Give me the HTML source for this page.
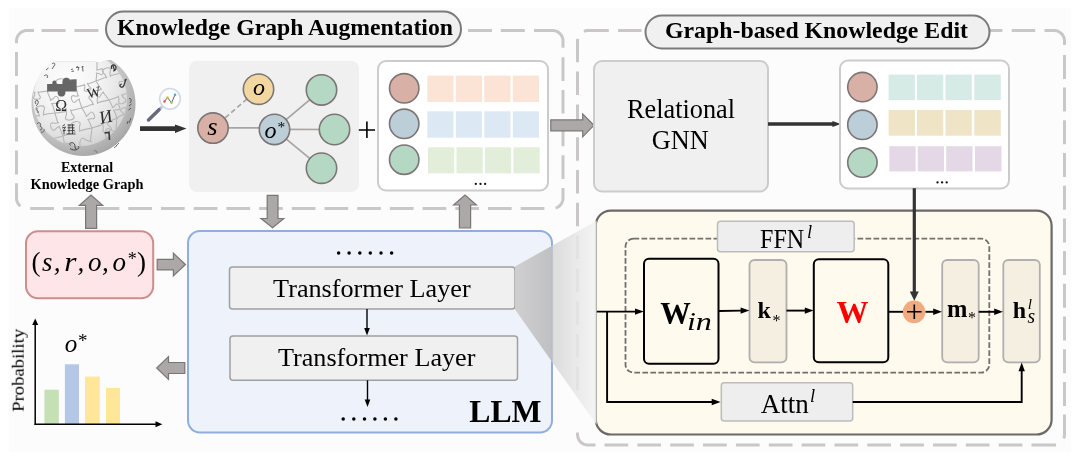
<!DOCTYPE html>
<html><head><meta charset="utf-8">
<style>
html,body{margin:0;padding:0;background:#fff;width:1080px;height:457px;overflow:hidden}
svg{display:block;will-change:transform}
text{font-family:"Liberation Serif",serif}
.b{font-weight:bold}
.i{font-style:italic}
</style></head><body>
<svg width="1080" height="457" viewBox="0 0 1080 457">
<defs>
<radialGradient id="globe" cx="0.38" cy="0.3" r="0.75">
<stop offset="0" stop-color="#fdfdfd"/>
<stop offset="0.45" stop-color="#f3f3f3"/>
<stop offset="0.75" stop-color="#e4e4e4"/>
<stop offset="1" stop-color="#d2d2d2"/>
</radialGradient>
<radialGradient id="rim" cx="0.4" cy="0.35" r="0.7">
<stop offset="0.7" stop-color="#c4c4c4"/>
<stop offset="1" stop-color="#a2a2a2"/>
</radialGradient>
<linearGradient id="coneA" gradientUnits="userSpaceOnUse" x1="515" y1="0" x2="552" y2="0">
<stop offset="0" stop-color="#d0cfd0"/>
<stop offset="1" stop-color="#c0bfc2"/>
</linearGradient>
<linearGradient id="coneB" gradientUnits="userSpaceOnUse" x1="552" y1="0" x2="596.5" y2="0">
<stop offset="0" stop-color="#d8d8d8" stop-opacity="0.92"/>
<stop offset="0.6" stop-color="#e8e8e8" stop-opacity="0.85"/>
<stop offset="1" stop-color="#f4f4f4" stop-opacity="0.9"/>
</linearGradient>
<marker id="ah" viewBox="0 0 10 10" refX="10" refY="5" markerWidth="5" markerHeight="5" orient="auto" markerUnits="userSpaceOnUse"><path d="M0,0 L10,5 L0,10 Z" fill="#000"/></marker>
</defs>
<rect x="9" y="8" width="1062" height="443.7" fill="#fcfcfc"/>

<!-- dashed section boxes -->
<path fill="none" stroke="#cac7c8" stroke-width="3" d="M41.6,30.5L65.6,30.5M74.4,30.5L98.4,30.5M107.2,30.5L131.2,30.5M140.0,30.5L164.0,30.5M172.8,30.5L196.8,30.5M205.6,30.5L229.6,30.5M238.4,30.5L262.4,30.5M271.2,30.5L295.2,30.5M304.0,30.5L328.0,30.5M336.8,30.5L360.8,30.5M369.6,30.5L393.6,30.5M402.4,30.5L426.4,30.5M435.2,30.5L459.2,30.5M468.0,30.5L492.0,30.5M500.8,30.5L524.8,30.5M534.0,30.5L552.4,30.5L553.4,30.5L554.4,30.7L555.4,30.9L556.3,31.2L557.2,31.6L558.1,32.1L558.9,32.7L559.6,33.3L560.4,34.0L561.0,34.8L561.5,35.6L562.0,36.5L562.4,37.4L562.7,38.4L562.9,39.4L563.0,40.3L563.0,47.8M563.0,57.2L563.0,80.9M563.0,89.9L563.0,113.6M563.0,122.6L563.0,146.3M563.0,155.3L563.0,179.0M563.0,188.0L563.0,197.9L563.0,198.9L562.8,199.9L562.6,200.9L562.3,201.8L561.9,202.7L561.4,203.6L560.8,204.4L560.2,205.2L559.5,205.9L558.7,206.5L557.9,207.0L557.0,207.5L556.1,207.9L555.6,208.0M53.9,208.5L30.2,208.5M86.6,208.5L62.9,208.5M119.3,208.5L95.6,208.5M152.0,208.5L128.3,208.5M184.7,208.5L161.0,208.5M217.4,208.5L193.7,208.5M250.1,208.5L226.4,208.5M282.8,208.5L259.1,208.5M315.5,208.5L291.8,208.5M348.2,208.5L324.5,208.5M380.9,208.5L357.2,208.5M413.6,208.5L389.9,208.5M446.3,208.5L422.6,208.5M479.0,208.5L455.3,208.5M511.7,208.5L488.0,208.5M544.4,208.5L520.7,208.5M20.4,206.1L19.6,205.5L18.9,204.7L18.3,203.9L17.8,203.1L17.4,202.2L17.0,201.2L16.8,200.3L16.6,199.3L16.5,198.3L16.5,183.3M16.5,76.0L16.5,52.0M16.5,108.8L16.5,84.8M16.5,141.6L16.5,117.6M16.5,174.4L16.5,150.4M16.5,43.3L16.5,40.8L16.6,39.8L16.7,38.9L17.0,37.9L17.3,37.0L17.7,36.1L18.2,35.2L18.8,34.4L19.5,33.7L20.2,33.0L21.0,32.4L21.8,31.9L22.7,31.4L23.6,31.1L24.6,30.8L25.6,30.6L26.6,30.5L34.0,30.5"/>
<path fill="none" stroke="#cac7c8" stroke-width="3" d="M583.9,31.3L584.8,31.0L585.7,30.8L586.7,30.6L587.7,30.5L608.8,30.5M618.1,30.5L641.6,30.5M650.9,30.5L674.4,30.5M683.7,30.5L707.2,30.5M716.5,30.5L740.0,30.5M749.3,30.5L772.8,30.5M782.1,30.5L805.6,30.5M814.9,30.5L838.4,30.5M847.7,30.5L871.2,30.5M880.5,30.5L904.0,30.5M913.3,30.5L936.8,30.5M946.1,30.5L969.6,30.5M978.9,30.5L1002.4,30.5M1011.7,30.5L1035.2,30.5M1044.5,30.5L1054.0,30.5L1055.0,30.6L1056.0,30.7L1057.0,30.9L1057.9,31.2L1058.8,31.7L1059.7,32.2L1060.5,32.8L1061.2,33.4L1061.9,34.1L1062.5,34.9L1063.1,35.8L1063.5,36.6L1063.9,37.6L1064.2,38.5L1064.4,39.5L1064.5,40.5L1064.5,45.0M1064.5,54.9L1064.5,78.9M1064.5,87.6L1064.5,111.6M1064.5,120.3L1064.5,144.3M1064.5,153.0L1064.5,177.0M1064.5,185.7L1064.5,209.7M1064.5,218.4L1064.5,242.4M1064.5,251.1L1064.5,275.1M1064.5,283.8L1064.5,307.8M1064.5,316.5L1064.5,340.5M1064.5,349.2L1064.5,373.2M1064.5,381.9L1064.5,405.9M1064.5,414.6L1064.5,434.6L1064.4,435.6L1064.3,436.6L1064.0,437.6L1063.7,438.5M628.2,445.0L604.5,445.0M661.0,445.0L637.4,445.0M693.9,445.0L670.2,445.0M726.8,445.0L703.0,445.0M759.6,445.0L735.9,445.0M792.5,445.0L768.8,445.0M825.3,445.0L801.6,445.0M858.1,445.0L834.5,445.0M891.0,445.0L867.3,445.0M923.9,445.0L900.1,445.0M956.7,445.0L933.0,445.0M989.5,445.0L965.9,445.0M1022.4,445.0L998.7,445.0M1056.0,444.8L1055.0,445.0L1054.0,445.0L1031.5,445.0M595.5,445.0L588.1,445.0L587.1,445.0L586.2,444.8L585.2,444.6L584.3,444.3L583.4,443.9L582.5,443.4L581.7,442.9L580.9,442.3L580.2,441.6L579.6,440.8L579.0,440.0L578.6,439.1L578.2,438.2L577.9,437.3L577.7,436.3L577.5,435.4L577.5,432.4M577.5,62.3L577.5,40.8L577.6,39.8L577.7,38.8M577.5,95.1L577.5,71.6M577.5,127.9L577.5,104.4M577.5,160.7L577.5,137.2M577.5,193.5L577.5,170.0M577.5,226.3L577.5,202.8M577.5,259.1L577.5,235.6M577.5,291.9L577.5,268.4M577.5,324.7L577.5,301.2M577.5,357.5L577.5,334.0M577.5,390.3L577.5,366.8"/>

<!-- title pills -->
<rect x="106" y="11.5" width="355" height="35" rx="17.5" fill="#f0f0f0" stroke="#7a7a7a" stroke-width="2"/>
<text x="117" y="34.5" class="b" font-size="24" textLength="336" lengthAdjust="spacingAndGlyphs">Knowledge Graph Augmentation</text>
<rect x="645.5" y="15.5" width="344" height="33" rx="16.5" fill="#f0f0f0" stroke="#7a7a7a" stroke-width="2"/>
<text x="665" y="38" class="b" font-size="23" textLength="303" lengthAdjust="spacingAndGlyphs">Graph-based Knowledge Edit</text>

<!-- ===== globe ===== -->
<g id="globe-g">
<clipPath id="gclip"><path d="M20,200 L20,60 L54,60 L56,61.5 L95,61.5 L100,63 L106,60.5 L110,60 L150,60 L150,200 Z"/></clipPath>
<clipPath id="gin"><circle cx="80" cy="99" r="47"/></clipPath>
<g clip-path="url(#gclip)">
<circle cx="83.5" cy="104" r="52" fill="url(#rim)"/>
<circle cx="80" cy="99" r="47" fill="url(#globe)"/>
<g clip-path="url(#gin)" fill="none" stroke="#b6b6b6" stroke-width="1.1">
<path d="M26.0,93.0C27.3,92.9 32.6,92.8 34.0,92.7C35.5,92.5 34.7,91.8 34.8,92.2C34.9,92.5 34.8,93.8 34.7,94.8C34.5,95.9 33.3,97.4 33.7,98.2C34.1,99.0 36.1,99.5 37.2,99.3C38.3,99.2 40.1,98.4 40.4,97.6C40.7,96.7 39.2,95.4 38.9,94.4C38.5,93.5 38.1,92.2 38.2,91.8C38.2,91.5 37.6,92.3 39.1,92.2C40.5,92.0 45.7,91.2 47.0,91.0M47.0,91.0C48.8,90.7 55.9,89.2 57.9,88.9C60.0,88.6 59.2,89.8 59.2,89.3C59.2,88.8 58.7,87.0 58.1,85.7C57.5,84.4 55.4,82.7 55.7,81.5C56.1,80.4 58.6,79.1 60.1,78.8C61.6,78.6 64.4,79.2 65.0,80.2C65.7,81.3 64.1,83.5 63.9,84.9C63.7,86.4 63.7,88.2 63.8,88.7C64.0,89.2 62.9,88.2 64.9,87.9C66.9,87.7 74.2,87.2 76.0,87.0M76.0,87.0C77.3,86.7 82.3,85.5 83.7,85.1C85.1,84.7 84.2,84.1 84.4,84.5C84.6,84.8 84.7,86.1 84.8,87.1C84.8,88.1 83.9,89.9 84.5,90.6C85.0,91.2 87.0,91.3 88.1,91.0C89.2,90.7 90.8,89.5 90.9,88.6C91.0,87.8 89.3,86.8 88.8,85.9C88.2,85.1 87.6,83.9 87.6,83.5C87.6,83.1 87.1,84.1 88.5,83.7C89.9,83.3 94.8,81.4 96.0,81.0M96.0,81.0C97.6,80.4 103.6,78.0 105.3,77.5C107.1,76.9 106.6,78.1 106.5,77.6C106.4,77.2 105.7,75.7 105.0,74.6C104.3,73.6 102.1,72.3 102.3,71.3C102.4,70.2 104.4,68.7 105.7,68.2C107.0,67.8 109.5,67.9 110.3,68.7C111.0,69.5 110.0,71.8 110.0,73.0C110.0,74.3 110.3,75.9 110.5,76.4C110.7,76.8 109.6,76.1 111.3,75.5C113.1,75.0 119.4,73.4 121.0,73.0M121.0,73.0C122.2,72.6 127.0,71.2 128.4,70.7C129.7,70.2 128.8,69.7 129.0,70.1C129.2,70.4 129.4,71.6 129.5,72.6C129.6,73.6 128.8,75.3 129.4,75.9C130.0,76.5 131.9,76.5 132.9,76.2C134.0,75.8 135.4,74.5 135.5,73.7C135.6,72.9 133.9,72.0 133.3,71.2C132.7,70.4 132.1,69.3 132.0,68.9C132.0,68.6 131.6,69.5 132.9,69.0C134.2,68.5 138.8,66.5 140.0,66.0M28.0,118.0C29.7,117.6 36.3,115.9 38.2,115.6C40.0,115.2 39.3,116.4 39.3,115.9C39.3,115.4 38.8,113.8 38.2,112.6C37.6,111.4 35.5,109.8 35.8,108.7C36.0,107.6 38.3,106.3 39.8,106.0C41.2,105.8 43.8,106.2 44.4,107.1C45.1,108.1 43.7,110.3 43.6,111.6C43.4,112.9 43.5,114.6 43.7,115.1C43.8,115.6 42.7,114.7 44.6,114.4C46.5,114.0 53.3,113.2 55.0,113.0M55.0,113.0C56.7,112.8 63.5,112.0 65.4,111.6C67.2,111.3 66.2,110.4 66.3,110.9C66.5,111.4 66.6,113.1 66.4,114.4C66.3,115.7 64.9,117.9 65.6,118.9C66.2,119.8 68.8,120.2 70.2,120.0C71.7,119.7 74.0,118.4 74.2,117.3C74.5,116.2 72.4,114.6 71.8,113.4C71.2,112.2 70.7,110.6 70.7,110.1C70.7,109.6 69.9,110.8 71.8,110.4C73.7,110.1 80.3,108.4 82.0,108.0M82.0,108.0C83.7,107.4 90.2,105.0 92.1,104.4C94.0,103.9 93.4,105.1 93.3,104.6C93.3,104.1 92.5,102.6 91.8,101.4C91.1,100.2 88.8,98.9 88.9,97.7C89.1,96.6 91.3,95.0 92.7,94.5C94.1,94.1 96.8,94.3 97.6,95.2C98.3,96.0 97.2,98.4 97.2,99.8C97.2,101.2 97.4,102.9 97.7,103.4C97.9,103.8 96.7,103.1 98.6,102.5C100.5,101.9 107.3,100.4 109.0,100.0M109.0,100.0C110.4,99.5 116.0,97.6 117.5,97.0C119.1,96.4 118.0,95.9 118.2,96.2C118.5,96.6 118.8,98.0 118.9,99.2C119.1,100.3 118.3,102.4 119.0,103.1C119.7,103.8 122.0,103.7 123.2,103.2C124.3,102.7 126.0,101.2 126.0,100.2C126.1,99.2 124.0,98.3 123.3,97.4C122.6,96.5 121.8,95.2 121.8,94.8C121.7,94.4 121.3,95.5 122.8,94.9C124.4,94.2 129.6,91.6 131.0,91.0M131.0,91.0C131.7,90.6 134.3,89.2 135.1,88.9C135.9,88.5 135.7,89.1 135.6,88.9C135.6,88.7 135.2,88.1 134.8,87.6C134.4,87.2 133.3,86.7 133.3,86.2C133.3,85.7 134.2,84.9 134.8,84.7C135.3,84.4 136.5,84.3 136.9,84.6C137.2,84.9 136.9,86.0 137.0,86.6C137.1,87.2 137.3,87.9 137.4,88.1C137.5,88.3 136.9,88.0 137.7,87.7C138.5,87.3 141.3,86.3 142.0,86.0M34.0,142.0C35.9,141.7 43.1,140.7 45.1,140.3C47.2,139.9 46.0,139.0 46.2,139.5C46.4,140.0 46.5,141.8 46.4,143.3C46.2,144.7 44.8,147.1 45.5,148.1C46.2,149.1 49.1,149.5 50.6,149.2C52.1,148.8 54.6,147.3 54.8,146.2C55.1,145.0 52.8,143.3 52.2,142.1C51.5,140.8 50.8,139.1 50.8,138.5C50.8,138.0 50.1,139.3 52.1,138.9C54.1,138.4 61.2,136.5 63.0,136.0M63.0,136.0C64.8,135.4 71.8,132.9 73.9,132.4C75.9,131.8 75.2,133.2 75.2,132.6C75.1,132.1 74.4,130.4 73.6,129.1C72.8,127.9 70.4,126.4 70.6,125.2C70.8,123.9 73.2,122.3 74.7,121.8C76.2,121.4 79.1,121.7 79.9,122.6C80.7,123.5 79.4,126.1 79.4,127.5C79.4,129.0 79.6,130.9 79.8,131.4C80.1,131.8 78.8,131.0 80.8,130.5C82.9,129.9 90.1,128.4 92.0,128.0M92.0,128.0C93.6,127.5 100.0,125.4 101.7,124.7C103.5,124.0 102.2,123.4 102.5,123.8C102.8,124.2 103.1,125.9 103.3,127.2C103.4,128.5 102.5,130.8 103.3,131.6C104.1,132.4 106.7,132.3 108.0,131.8C109.3,131.2 111.3,129.5 111.3,128.4C111.3,127.3 109.1,126.2 108.3,125.2C107.5,124.1 106.6,122.7 106.5,122.2C106.4,121.7 106.0,123.0 107.7,122.3C109.5,121.6 115.5,118.7 117.0,118.0M117.0,118.0C118.0,117.4 122.1,115.2 123.3,114.6C124.5,114.1 124.2,115.0 124.1,114.6C124.1,114.3 123.4,113.3 122.8,112.7C122.2,112.0 120.6,111.3 120.5,110.5C120.5,109.8 121.8,108.5 122.7,108.0C123.6,107.6 125.4,107.5 126.0,108.0C126.6,108.5 126.0,110.2 126.2,111.1C126.3,112.0 126.7,113.1 126.9,113.4C127.1,113.6 126.2,113.3 127.4,112.7C128.6,112.1 132.9,110.5 134.0,110.0M134.0,110.0C134.5,109.8 136.6,108.9 137.1,108.6C137.7,108.4 137.3,108.2 137.4,108.3C137.5,108.4 137.6,109.0 137.7,109.4C137.8,109.8 137.6,110.6 137.8,110.9C138.1,111.1 139.0,111.0 139.4,110.8C139.8,110.6 140.4,110.0 140.4,109.6C140.4,109.2 139.6,108.9 139.3,108.6C139.0,108.3 138.7,107.8 138.6,107.7C138.6,107.5 138.5,108.0 139.0,107.7C139.6,107.4 141.5,106.3 142.0,106.0M50.0,158.0C52.2,157.6 60.7,155.8 63.2,155.4C65.6,155.1 64.7,156.5 64.7,155.9C64.7,155.3 64.1,153.2 63.4,151.6C62.7,150.0 60.1,147.9 60.5,146.5C60.9,145.1 63.9,143.5 65.8,143.2C67.6,143.0 70.9,143.7 71.7,144.9C72.5,146.1 70.6,148.9 70.4,150.6C70.1,152.3 70.1,154.5 70.3,155.1C70.5,155.7 69.2,154.6 71.6,154.2C74.1,153.9 82.8,153.2 85.0,153.0M85.0,153.0C86.8,152.5 93.9,150.5 95.8,149.8C97.8,149.1 96.5,148.3 96.8,148.8C97.0,149.3 97.4,151.1 97.5,152.5C97.6,154.0 96.5,156.6 97.3,157.4C98.2,158.3 101.0,158.3 102.5,157.8C104.0,157.3 106.2,155.5 106.3,154.2C106.4,153.0 103.9,151.7 103.1,150.5C102.2,149.4 101.3,147.7 101.2,147.2C101.2,146.7 100.6,148.1 102.6,147.4C104.5,146.7 111.3,143.7 113.0,143.0M113.0,143.0C114.0,142.2 118.0,138.9 119.2,138.1C120.4,137.3 120.3,138.3 120.1,138.0C120.0,137.6 119.1,136.7 118.3,136.1C117.5,135.4 115.6,135.0 115.4,134.2C115.3,133.3 116.4,131.7 117.3,131.1C118.2,130.4 120.1,129.9 120.9,130.3C121.6,130.8 121.4,132.7 121.7,133.7C122.0,134.6 122.6,135.8 122.9,136.0C123.1,136.3 122.1,136.1 123.3,135.2C124.5,134.4 128.9,131.7 130.0,131.0M130.0,131.0C130.8,130.6 133.9,129.1 134.7,128.6C135.5,128.1 134.9,127.9 135.0,128.1C135.2,128.2 135.5,129.1 135.7,129.7C135.8,130.4 135.6,131.6 136.0,132.0C136.5,132.3 137.8,132.1 138.4,131.7C139.1,131.3 139.9,130.3 139.9,129.7C139.8,129.2 138.6,128.8 138.1,128.3C137.6,127.8 137.0,127.2 137.0,126.9C136.9,126.7 136.7,127.4 137.6,126.9C138.4,126.4 141.3,124.5 142.0,124.0M47.0,91.0C47.6,92.4 49.9,97.7 50.5,99.2C51.0,100.7 49.9,100.3 50.4,100.2C50.8,100.2 52.1,99.5 53.0,98.8C53.9,98.1 54.9,96.2 55.9,96.2C56.8,96.3 58.3,98.0 58.7,99.2C59.1,100.4 59.1,102.6 58.4,103.3C57.8,103.9 55.7,103.1 54.6,103.2C53.4,103.3 52.0,103.5 51.6,103.8C51.3,104.0 51.8,102.9 52.4,104.5C53.0,106.0 54.6,111.6 55.0,113.0M55.0,113.0C55.4,114.5 57.0,120.3 57.6,121.9C58.1,123.5 58.7,122.4 58.4,122.7C58.0,122.9 56.5,123.1 55.3,123.2C54.1,123.3 52.0,122.4 51.3,123.1C50.6,123.7 50.5,126.1 51.0,127.3C51.4,128.5 52.8,130.3 53.8,130.4C54.8,130.5 55.9,128.5 56.9,127.8C57.9,127.1 59.2,126.4 59.6,126.3C60.1,126.3 58.9,125.8 59.5,127.4C60.1,129.0 62.4,134.6 63.0,136.0M63.0,136.0C63.3,137.5 64.4,143.4 64.6,145.1C64.8,146.7 63.8,146.1 64.3,146.1C64.7,146.1 66.1,145.7 67.2,145.2C68.3,144.8 69.8,143.0 70.7,143.3C71.7,143.6 72.7,145.7 72.9,146.9C73.1,148.2 72.5,150.5 71.7,151.0C70.9,151.5 69.0,150.2 67.8,150.0C66.7,149.8 65.2,149.8 64.7,149.9C64.3,150.1 65.1,149.1 65.3,150.8C65.6,152.5 65.9,158.5 66.0,160.0M76.0,87.0C76.3,88.3 77.4,93.6 77.9,95.1C78.3,96.6 78.9,95.6 78.5,95.8C78.2,96.0 76.8,96.2 75.8,96.2C74.7,96.2 72.8,95.2 72.2,95.8C71.5,96.4 71.3,98.5 71.7,99.6C72.0,100.7 73.2,102.4 74.1,102.5C75.0,102.7 76.1,100.9 77.0,100.4C77.9,99.8 79.1,99.2 79.5,99.2C79.9,99.1 78.9,98.7 79.3,100.1C79.7,101.6 81.5,106.7 82.0,108.0M82.0,108.0C82.7,109.2 85.5,114.0 86.2,115.4C86.9,116.8 85.8,116.5 86.2,116.4C86.6,116.3 87.7,115.5 88.5,114.7C89.3,114.0 90.1,112.0 91.0,112.0C91.9,112.0 93.5,113.4 94.0,114.5C94.5,115.6 94.8,117.7 94.2,118.4C93.6,119.1 91.6,118.5 90.5,118.7C89.5,118.9 88.1,119.4 87.8,119.6C87.5,119.8 87.9,118.8 88.6,120.2C89.3,121.6 91.4,126.7 92.0,128.0M92.0,128.0C91.8,130.0 90.7,137.9 90.6,140.1C90.5,142.4 91.7,141.4 91.2,141.4C90.6,141.5 88.6,141.1 87.2,140.5C85.7,140.0 83.6,137.9 82.4,138.3C81.1,138.8 79.9,141.6 79.8,143.3C79.7,145.0 80.6,148.0 81.7,148.6C82.9,149.2 85.2,147.3 86.8,146.9C88.3,146.6 90.3,146.4 90.8,146.6C91.4,146.7 90.3,145.6 90.1,147.8C90.0,150.0 90.0,158.0 90.0,160.0M97.0,62.0C97.0,63.2 97.1,67.9 97.0,69.2C96.9,70.6 96.2,69.9 96.6,70.0C96.9,70.1 98.1,69.9 99.0,69.7C99.9,69.5 101.3,68.4 102.0,68.7C102.7,69.1 103.2,70.8 103.2,71.8C103.1,72.9 102.4,74.5 101.7,74.8C100.9,75.1 99.7,73.8 98.8,73.5C97.9,73.2 96.8,73.0 96.4,73.0C96.1,73.1 96.8,72.5 96.8,73.8C96.7,75.1 96.1,79.8 96.0,81.0M96.0,81.0C96.8,82.2 99.7,87.2 100.6,88.5C101.5,89.8 101.8,88.7 101.5,89.0C101.2,89.3 99.9,89.9 98.8,90.2C97.7,90.6 95.6,90.3 95.1,91.1C94.6,91.9 95.2,94.0 95.8,95.0C96.5,96.1 98.3,97.3 99.3,97.2C100.2,97.0 100.7,94.9 101.4,94.0C102.1,93.2 103.2,92.2 103.5,92.0C103.9,91.9 102.8,91.7 103.7,93.0C104.6,94.4 108.1,98.8 109.0,100.0M109.0,100.0C109.6,101.1 111.8,105.4 112.4,106.7C113.0,107.9 112.0,107.6 112.4,107.6C112.7,107.5 113.7,106.8 114.5,106.2C115.2,105.6 116.0,103.9 116.8,103.9C117.6,103.9 118.9,105.2 119.3,106.2C119.7,107.2 119.9,109.0 119.3,109.6C118.8,110.2 117.0,109.7 116.1,109.8C115.1,109.9 113.9,110.2 113.6,110.4C113.3,110.6 113.8,109.7 114.3,111.0C114.9,112.3 116.6,116.8 117.0,118.0M117.0,118.0C116.8,120.0 116.1,127.9 116.0,130.1C115.9,132.4 117.1,131.4 116.6,131.4C116.0,131.5 114.0,131.1 112.6,130.7C111.1,130.2 108.9,128.1 107.7,128.6C106.5,129.1 105.4,131.9 105.3,133.7C105.2,135.4 106.2,138.3 107.4,138.8C108.6,139.4 110.9,137.5 112.4,137.1C113.9,136.7 115.9,136.4 116.4,136.6C117.0,136.7 115.8,135.6 115.7,137.8C115.7,140.1 116.0,148.0 116.0,150.0M118.0,62.0C118.2,62.7 119.2,65.4 119.4,66.1C119.6,66.9 119.1,66.6 119.3,66.6C119.5,66.6 120.1,66.3 120.6,66.0C121.1,65.7 121.6,64.8 122.1,64.9C122.6,65.0 123.2,65.9 123.3,66.5C123.5,67.0 123.4,68.1 123.1,68.4C122.7,68.7 121.7,68.2 121.2,68.2C120.6,68.2 119.9,68.3 119.7,68.4C119.6,68.5 119.9,68.0 120.1,68.8C120.3,69.5 120.8,72.3 121.0,73.0M121.0,73.0C121.6,74.2 123.7,78.8 124.4,80.0C125.1,81.3 125.5,80.3 125.2,80.6C124.9,80.8 123.7,81.2 122.7,81.5C121.8,81.7 119.9,81.2 119.4,81.9C118.9,82.6 119.2,84.5 119.7,85.5C120.2,86.5 121.7,87.8 122.6,87.7C123.4,87.6 124.0,85.8 124.7,85.1C125.4,84.4 126.4,83.6 126.8,83.4C127.2,83.3 126.1,83.1 126.8,84.4C127.5,85.6 130.3,89.9 131.0,91.0M131.0,91.0C131.3,92.2 132.3,96.8 132.5,98.2C132.7,99.5 131.9,99.0 132.3,99.0C132.6,99.0 133.7,98.6 134.6,98.2C135.4,97.8 136.6,96.4 137.3,96.6C138.1,96.8 139.0,98.4 139.2,99.5C139.3,100.5 139.0,102.3 138.3,102.7C137.6,103.1 136.1,102.1 135.2,102.0C134.3,101.9 133.1,101.9 132.7,102.0C132.4,102.1 133.0,101.4 133.2,102.7C133.5,104.0 133.9,108.8 134.0,110.0M134.0,110.0C133.9,111.9 133.4,119.3 133.4,121.4C133.4,123.5 134.5,122.5 134.0,122.6C133.5,122.7 131.6,122.4 130.2,122.0C128.8,121.6 126.7,119.7 125.6,120.2C124.5,120.7 123.5,123.4 123.5,125.0C123.5,126.6 124.5,129.3 125.6,129.8C126.7,130.3 128.8,128.4 130.2,128.0C131.6,127.6 133.5,127.3 134.0,127.4C134.5,127.5 133.4,126.5 133.4,128.6C133.4,130.7 133.9,138.1 134.0,140.0"/>
</g>
<path d="M47.1,84 L52.3,84 C52,82 53,80.4 54.5,80.4 C56,80.4 56.8,82 56.5,84 L62.5,84 C62,80.5 63.2,77.8 66.3,77.8 C69.4,77.8 70.6,80 70.2,82 L70.3,79.6 L76.6,79.2 L76.6,91.4 L65.3,91.4 C65.8,94 64.5,96.5 61.5,96.5 C58.5,96.5 57.2,94 57.7,91.4 L47.1,91.4 Z" fill="#666"/>
</g>
<g fill="#2a2a2a">
<text x="55.2" y="111.2" font-size="16">Ω</text>
<text x="86.8" y="97" font-size="14.5" transform="rotate(-12 94 92)">W</text>
<g transform="translate(106,116.5) rotate(-12) skewX(-6)"><text x="-6.6" y="6.2" font-size="18">И</text></g>
</g>
<g fill="none" stroke="#3a3a3a" stroke-width="0.9">
<path d="M62.5,126 L65,124.5 M62,128 L65.5,127 L63,131 L66,130 M64,130 V134.5 M67.5,125 H74.5 M69,124.3 V134 M72.5,124.3 V134 M67.5,127.8 H74.5 M67.5,130.6 H74.5 M66.5,134 H75.5"/>
<path d="M104.5,133 L109,132.5 L109.5,140" stroke-width="1.6"/>
<path d="M71,69.5 L73,69 M71.5,71.5 L74,71 M76,67.5 L79,67.3 L78,70.5 M77,66 L77.5,67.3 M81.5,67 L83.5,66.5 M82.5,66.5 L83,71.5" stroke="#555"/>
<path d="M112,69 C110,66 113,64 115,65.5 C117,67 116,71 113,71 M113,66 L114.5,70" stroke="#333" stroke-width="1.2"/>
<path d="M126,80 C124,82 125,88 121,87 C119,86.5 120,84 122,84 M124.5,80.5 L126.5,79" stroke="#333" stroke-width="1.2"/>
<path d="M36,104 C34,102 36,99 38,101 C39,103 37,105 36,106 M37,108 C36,110 39,111 38,113" stroke="#555"/>
<path d="M37,124 C39,121 42,124 40,126 C42,127 43,130 40,130 M41,132 C43,133 45,131 44,129" stroke="#555"/>
<path d="M70.5,145.5 C68,143 72,141.5 74,143.5 C76,145.5 74,148 76,149 C78,150 80,147.5 78,146 M70,148.5 C72,150 75,150.5 77,149.5" stroke="#444" stroke-width="1"/>
<path d="M46,70 L48.5,68 M44,76 C46,74 49,75 47,78 M52,64 C54,62 56,63.5 54,66 L52,69" stroke="#555"/>
<path d="M129,99 C131,97 132,101 130,103 M129,106 L131.5,104 M128.5,110 L131,108" stroke="#444"/>
<path d="M131,118 L129,123 M128,121 L127,124" stroke="#555"/>
<path d="M116,146 L119,143 M114,148 L117,145.5" stroke="#666"/>
<path d="M94,151 C96,150 98,152 96,153" stroke="#777"/>
</g>
</g>
<text x="87" y="171.8" class="b" font-size="14" text-anchor="middle">External</text>
<text x="87" y="188.6" class="b" font-size="14" text-anchor="middle" textLength="113" lengthAdjust="spacingAndGlyphs">Knowledge Graph</text>

<!-- magnifier -->
<circle cx="170" cy="98.8" r="10.3" fill="#fff" stroke="#d3d9e6" stroke-width="1.6"/>
<line x1="162" y1="106.7" x2="159" y2="109.7" stroke="#b8bfd0" stroke-width="3"/>
<line x1="159" y1="109.7" x2="148.5" y2="120" stroke="#666b80" stroke-width="3.5" stroke-linecap="round"/>
<polyline points="164.5,101.5 167.5,97.5 171.5,103 175,94.8" fill="none" stroke="#555" stroke-width="0.9"/>
<circle cx="164.5" cy="101.5" r="1.2" fill="#f05050"/>
<circle cx="167.5" cy="97.5" r="1.2" fill="#f5b040"/>
<circle cx="171.5" cy="103" r="1.2" fill="#a8d040"/>
<circle cx="175" cy="94.8" r="1.3" fill="#30b8e8"/>
<!-- black arrow -->
<path d="M140,126.2 L175,126.2 L175,124.4 L186.5,128.6 L175,132.9 L175,131 L140,131 Z" fill="#333"/>

<!-- ===== graph panel ===== -->
<rect x="189" y="60.7" width="170" height="131.3" rx="8" fill="#f0f0f0"/>
<g stroke="#a8a4a2" stroke-width="1.7" fill="none">
<line x1="213" y1="127.9" x2="274.5" y2="127.9"/>
<line x1="213" y1="128.3" x2="258.5" y2="89.2" stroke-dasharray="5 3"/>
<line x1="274.5" y1="129.4" x2="321.5" y2="89.9"/>
<line x1="274.5" y1="129.4" x2="334.5" y2="129.5"/>
<line x1="274.5" y1="129.4" x2="321.5" y2="168.2"/>
</g>
<g stroke="#7b7575" stroke-width="1.6">
<circle cx="213" cy="128.1" r="15.2" fill="#d8b0a6"/>
<circle cx="258.5" cy="89.2" r="15.2" fill="#f2d8a0"/>
<circle cx="274.5" cy="129.4" r="15.2" fill="#bccfd9"/>
<circle cx="321.5" cy="89.9" r="15.2" fill="#b5d8c4"/>
<circle cx="334.5" cy="129.5" r="15.2" fill="#b5d8c4"/>
<circle cx="321.5" cy="168.2" r="15.2" fill="#b5d8c4"/>
</g>
<text x="207.2" y="134.5" font-size="25" class="i" textLength="10.3" lengthAdjust="spacingAndGlyphs">s</text>
<text x="253.1" y="95.2" font-size="24" class="i">o</text>
<text x="264.5" y="137.5" font-size="24" class="i">o</text>
<text x="277.5" y="131.8" font-size="15.5">*</text>
<!-- plus -->
<path d="M358.8,130 H375 M366.9,121.4 V138" stroke="#000" stroke-width="1.6"/>

<!-- ===== embedding box 1 ===== -->
<rect x="378" y="61" width="170" height="129.5" rx="8" fill="#fff" stroke="#cccccc" stroke-width="2"/>
<g stroke="#7b7575" stroke-width="1.6">
<circle cx="404.2" cy="88.3" r="14.7" fill="#d8b0a6"/>
<circle cx="404.2" cy="123.8" r="14.7" fill="#bccfd9"/>
<circle cx="404.2" cy="159.7" r="14.7" fill="#b5d8c4"/>
</g>
<g fill="#fbe3d5">
<rect x="427.3" y="75.6" width="26.2" height="26.4"/><rect x="455.8" y="75.6" width="26.2" height="26.4"/><rect x="484.3" y="75.6" width="26.2" height="26.4"/><rect x="512.8" y="75.6" width="26.2" height="26.4"/>
</g>
<g fill="#dde8f5">
<rect x="427.3" y="111.3" width="26.2" height="26.4"/><rect x="455.8" y="111.3" width="26.2" height="26.4"/><rect x="484.3" y="111.3" width="26.2" height="26.4"/><rect x="512.8" y="111.3" width="26.2" height="26.4"/>
</g>
<g fill="#e2eed9">
<rect x="428" y="147.3" width="26.2" height="26"/><rect x="456.5" y="147.3" width="26.2" height="26"/><rect x="485" y="147.3" width="26.2" height="26"/><rect x="513.5" y="147.3" width="26.2" height="26"/>
</g>
<g fill="#111"><circle cx="475.8" cy="183.9" r="1.15"/><circle cx="480.5" cy="183.9" r="1.15"/><circle cx="485.1" cy="183.9" r="1.15"/></g>

<!-- gray arrow to GNN -->
<path d="M550.8,119.9 H582.7 V113.9 L593.9,125.3 L582.7,136.8 V130.8 H550.8 Z" fill="#aca8a8" stroke="#7a7676" stroke-width="1.2"/>

<!-- ===== Relational GNN ===== -->
<rect x="594" y="61" width="174" height="130.5" rx="8" fill="#f0f0f0" stroke="#cccccc" stroke-width="2"/>
<text x="627" y="117.6" font-size="26.3">Relational</text>
<text x="651.8" y="149" font-size="26.3">GNN</text>
<!-- dark arrow -->
<path d="M768,122.2 H832.4 V120.9 L840.8,124 L832.4,127.1 V125.8 H768 Z" fill="#333"/>

<!-- ===== embedding box 2 ===== -->
<rect x="840" y="60.5" width="169" height="128" rx="8" fill="#fff" stroke="#cccccc" stroke-width="2"/>
<g stroke="#7b7575" stroke-width="1.6">
<circle cx="862.4" cy="87.1" r="14.7" fill="#d8b0a6"/>
<circle cx="862.4" cy="124.8" r="14.7" fill="#bccfd9"/>
<circle cx="862.4" cy="162.6" r="14.7" fill="#b5d8c4"/>
</g>
<g fill="#d6ebe6">
<rect x="888.6" y="74.6" width="26.3" height="25.6"/><rect x="917" y="74.6" width="26.3" height="25.6"/><rect x="945.5" y="74.6" width="26.3" height="25.6"/><rect x="974.3" y="74.6" width="26.5" height="25.6"/>
</g>
<g fill="#efe4c5">
<rect x="888.6" y="110" width="26.3" height="25.7"/><rect x="917" y="110" width="26.3" height="25.7"/><rect x="945.5" y="110" width="26.3" height="25.7"/><rect x="974.3" y="110" width="26.5" height="25.7"/>
</g>
<g fill="#e4d8e7">
<rect x="889.3" y="146.2" width="26.3" height="25.2"/><rect x="917.7" y="146.2" width="26.3" height="25.2"/><rect x="946.2" y="146.2" width="26.3" height="25.2"/><rect x="975" y="146.2" width="26.5" height="25.2"/>
</g>
<g fill="#111"><circle cx="937.5" cy="182.4" r="1.15"/><circle cx="942.1" cy="182.4" r="1.15"/><circle cx="946.7" cy="182.4" r="1.15"/></g>

<!-- ===== gray block arrows ===== -->
<g fill="#aca8a8" stroke="#7a7676" stroke-width="1.2">
<path d="M85.6,228.3 V205.4 H79.3 L91,195 L102.7,205.4 H96.6 V228.3 Z"/>
<path d="M267.2,195.3 H278 V218.5 H283.8 L272.6,227.8 L261,218.5 H267.2 Z"/>
<path d="M459.4,228 V205 H453.6 L465,195 L476.4,205 H470.6 V228 Z"/>
<path d="M157.2,259.3 H173.4 V253.2 L185.4,264.5 L173.4,275.9 V269.9 H157.2 Z"/>
<path d="M184.8,362.5 H168.5 V356.6 L156.7,368 L168.5,379.4 V373.5 H184.8 Z"/>
</g>

<!-- ===== input tuple box ===== -->
<rect x="26" y="231.3" width="127.2" height="67" rx="12" fill="#fde5e8" stroke="#cf8c8c" stroke-width="2"/>
<g font-size="27">
<text x="31.6" y="271.3">(</text>
<text class="i" y="271.3"><tspan x="42" textLength="10.4" lengthAdjust="spacingAndGlyphs">s</tspan><tspan x="53.8">,</tspan><tspan x="64.2" textLength="12.2" lengthAdjust="spacingAndGlyphs">r</tspan><tspan x="77.5">,</tspan><tspan x="88.1">o</tspan><tspan x="102">,</tspan><tspan x="112.6">o</tspan></text>
<text x="127.8" y="264.7" font-size="18">*</text>
<text x="137" y="271.3">)</text>
</g>

<!-- ===== probability chart ===== -->
<g>
<rect x="44.4" y="389.7" width="14.4" height="34.3" fill="#c5e0b4"/>
<rect x="64.9" y="364.3" width="14.1" height="59.7" fill="#b4c7e7"/>
<rect x="85.1" y="376.6" width="14.7" height="47.4" fill="#ffe699"/>
<rect x="106" y="387.9" width="14" height="36.1" fill="#ffe699"/>
<path d="M35.2,425 V322" stroke="#000" stroke-width="1.5"/>
<path d="M35.2,318.4 L32.2,325 L38.2,325 Z" fill="#000"/>
<path d="M34.5,424.2 H157" stroke="#000" stroke-width="1.5"/>
<path d="M162.3,424.2 L155.5,421.2 L155.5,427.2 Z" fill="#000"/>
<text transform="translate(23.7,411.8) rotate(-90)" font-size="17" textLength="83" lengthAdjust="spacingAndGlyphs">Probability</text>
<text x="64.7" y="351.8" font-size="25" class="i">o</text>
<text x="78" y="346.5" font-size="19">*</text>
</g>

<!-- ===== LLM box ===== -->
<rect x="188" y="231" width="364" height="201.5" rx="12" fill="#edf2fb" stroke="#8faede" stroke-width="2"/>
<g fill="#000"><circle cx="338.6" cy="253" r="1.75"/><circle cx="349.1" cy="253" r="1.75"/><circle cx="359.8" cy="253" r="1.75"/><circle cx="370.3" cy="253" r="1.75"/><circle cx="381" cy="253" r="1.75"/><circle cx="391.6" cy="253" r="1.75"/></g>
<rect x="229.5" y="267" width="285.5" height="42" rx="3" fill="#f0f0f0" stroke="#a0a0a0" stroke-width="1.5"/>
<text x="273.1" y="296.5" font-size="26.2">Transformer Layer</text>
<rect x="230" y="336" width="287.5" height="44.3" rx="3" fill="#f0f0f0" stroke="#a0a0a0" stroke-width="1.5"/>
<text x="277.9" y="365.8" font-size="26.2">Transformer Layer</text>
<path d="M367,309 V329" stroke="#000" stroke-width="1.4"/>
<path d="M367,335.5 L364.2,328 L369.8,328 Z" fill="#000"/>
<path d="M367.5,380.3 V400" stroke="#000" stroke-width="1.4"/>
<path d="M367.5,407 L364.7,399.5 L370.3,399.5 Z" fill="#000"/>
<g fill="#000"><circle cx="343.2" cy="419.1" r="1.75"/><circle cx="353.8" cy="419.1" r="1.75"/><circle cx="364.5" cy="419.1" r="1.75"/><circle cx="374.9" cy="419.1" r="1.75"/><circle cx="385.4" cy="419.1" r="1.75"/><circle cx="395.9" cy="419.1" r="1.75"/></g>
<text x="469.3" y="421.9" font-size="31.7" class="b">LLM</text>

<!-- ===== yellow edit box ===== -->
<rect x="595.8" y="210.7" width="455.8" height="223.8" rx="15" fill="#fefbee" stroke="#6c6866" stroke-width="2.2"/>
<rect x="625.5" y="238.6" width="363.8" height="134" rx="8" fill="none" stroke="#736f6f" stroke-width="1.8" stroke-dasharray="5.7 2.3"/>
<rect x="717.5" y="221.2" width="136.7" height="30.6" rx="3" fill="#eeeeee" stroke="#bcbcbc" stroke-width="1.5"/>
<text x="760" y="248" font-size="26.7" textLength="44.2" lengthAdjust="spacingAndGlyphs">FFN</text>
<text x="807.1" y="237.7" font-size="18.4" class="i">l</text>
<!-- W_in -->
<rect x="644" y="258.8" width="74.5" height="105" rx="5" fill="#fefbee" stroke="#000" stroke-width="2"/>
<text x="660.3" y="323.9" font-size="32" class="b" textLength="30.6" lengthAdjust="spacingAndGlyphs">W</text>
<text x="686.9" y="330.2" font-size="26" class="i" textLength="25" lengthAdjust="spacingAndGlyphs">in</text>
<!-- k* -->
<rect x="749.5" y="260" width="37" height="102.3" rx="5" fill="#f4efe1" stroke="#b0aeae" stroke-width="1.8"/>
<text x="757.4" y="318" font-size="24" class="b">k</text>
<text x="772.4" y="325.9" font-size="16">*</text>
<!-- W red -->
<rect x="813.8" y="259.3" width="74.5" height="103" rx="5" fill="#fefbee" stroke="#000" stroke-width="2"/>
<text x="836.6" y="323.3" font-size="32" class="b" fill="#ff0000">W</text>
<!-- plus circle -->
<circle cx="914" cy="311.9" r="11.3" fill="#f1ab7e"/>
<path d="M907,311.8 H921.6 M914.3,304.5 V319.1" stroke="#000" stroke-width="1.6"/>
<!-- m* -->
<rect x="942.2" y="260" width="36.5" height="102.3" rx="5" fill="#f4efe1" stroke="#b0aeae" stroke-width="1.8"/>
<text x="946.9" y="317.2" font-size="24.5" class="b">m</text>
<text x="968.1" y="323.4" font-size="16">*</text>
<!-- h_s^l -->
<rect x="1003.3" y="260" width="36.5" height="102.3" rx="5" fill="#f4efe1" stroke="#b0aeae" stroke-width="1.8"/>
<text x="1012.7" y="317.8" font-size="24" class="b">h</text>
<text x="1027.4" y="322.6" font-size="22" class="i" textLength="7.6" lengthAdjust="spacingAndGlyphs">s</text>
<text x="1027.8" y="308.5" font-size="15.3" class="i">l</text>
<!-- Attn -->
<rect x="721.3" y="382.8" width="131.4" height="38.2" rx="3" fill="#eeeeee" stroke="#bcbcbc" stroke-width="1.5"/>
<text x="760.8" y="412.5" font-size="27">Attn</text>
<text x="810.1" y="402.2" font-size="18.4" class="i">l</text>
<!-- wiring -->
<g stroke="#000" stroke-width="1.9" fill="none">
<path d="M596.5,311.6 H636"/>
<path d="M607.1,311.6 V402 H712"/>
<path d="M718.5,311 L741,310.6"/>
<path d="M786.5,310.6 H805"/>
<path d="M888.3,311.8 H903"/>
<path d="M925.5,311.8 H934"/>
<path d="M978.7,311.8 H995"/>
<path d="M852.7,402 H1021.7 V370"/>
</g>
<g fill="#000">
<path d="M643.8,311.6 L635,308.4 L635,314.8 Z"/>
<path d="M720.5,402 L711.7,398.8 L711.7,405.2 Z"/>
<path d="M749.4,310.6 L740.6,307.4 L740.6,313.8 Z"/>
<path d="M813.6,310.6 L804.8,307.4 L804.8,313.8 Z"/>
<path d="M942,311.8 L933.2,308.6 L933.2,315 Z"/>
<path d="M1003,311.8 L994.2,308.6 L994.2,315 Z"/>
<path d="M1021.7,362.4 L1018.5,371.2 L1024.9,371.2 Z"/>
</g>
<path d="M914.3,188.2 V293" stroke="#333" stroke-width="3.2"/>
<path d="M914.3,300.8 L909.8,291.5 L918.8,291.5 Z" fill="#333"/>

<!-- cone -->
<path d="M515,266.5 L552,245.75 L552,361.7 L515,309.5 Z" fill="url(#coneA)"/>
<path d="M552,245.75 L596.5,220.8 L596.5,424.5 L552,361.7 Z" fill="url(#coneB)"/>
<path d="M552,245.75 V361.7" stroke="#b9bcc8" stroke-width="1.5"/>

</svg>
</body></html>
